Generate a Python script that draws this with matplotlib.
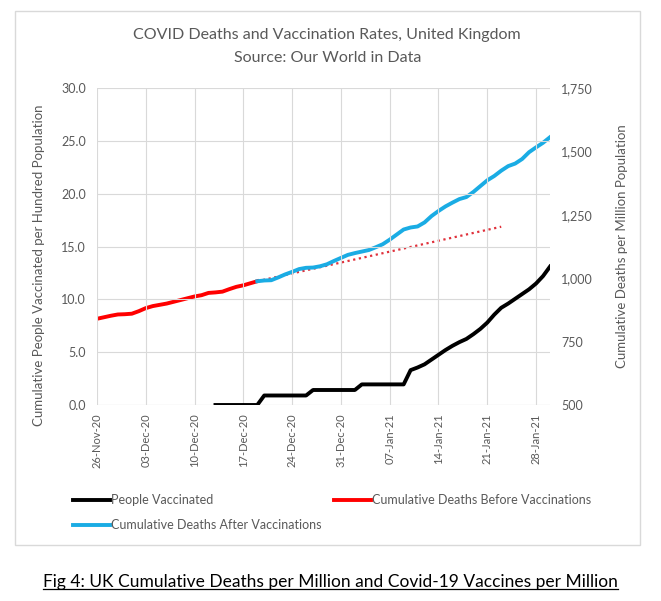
from matplotlib import pyplot as plt
from matplotlib.patches import Rectangle
from matplotlib.lines import Line2D
import matplotlib.dates as mdates
import numpy as np

plt.rcParams['font.family'] = ['Lato', 'DejaVu Sans']

#----------------------------------------------------------------------
# Data (days counted from 26-Nov-20)
start = np.datetime64('2020-11-26')

# cumulative deaths per million, before vaccinations (26-Nov .. 19-Dec)
before_days = np.arange(0, 24)
before_deaths = [840, 846, 852, 857, 858, 860, 870, 882, 890, 895, 900, 907,
                 914, 921, 928, 933, 942, 944, 947, 957, 966, 972, 980, 988]

# cumulative deaths per million, after vaccinations (19-Dec .. 30-Jan)
after_days = np.arange(23, 66)
after_deaths = [988, 991, 992, 1003, 1015, 1025, 1036, 1041, 1042, 1047, 1055,
                1068, 1080, 1092, 1099, 1105, 1111, 1122, 1134, 1152, 1172,
                1192, 1200, 1204, 1220, 1245, 1265, 1283, 1298, 1312, 1320,
                1340, 1363, 1386, 1403, 1424, 1442, 1452, 1470, 1497, 1516,
                1534, 1556]

# dotted projection of the pre-vaccination trend
trend_days = [23, 58]
trend_deaths = [988, 1203]

# people vaccinated per hundred (13-Dec .. 30-Jan)
vacc_days = np.arange(17, 66)
vacc_values = [0.0] * 7 + [0.9] * 7 + [1.42] * 7 + [1.95] * 7 + [
    3.3, 3.55, 3.85, 4.3, 4.75, 5.2, 5.6, 5.95, 6.25, 6.7, 7.2, 7.8, 8.55,
    9.2, 9.6, 10.05, 10.5, 10.95, 11.5, 12.2, 13.1]

tick_days = np.arange(0, 64, 7)

gray = '#595959'
grid = '#D9D9D9'

fig = plt.figure(figsize=(6.61, 6.01), dpi=100)
fig.patches.append(Rectangle((15 / 661, 1 - 545 / 601), 625 / 661, 534 / 601,
                             transform=fig.transFigure, fill=False,
                             ec='#D9D9D9', lw=1))

ax = fig.add_axes([97 / 661, 1 - 405 / 601, 453 / 661, 317 / 601])
ax2 = ax.twinx()

to_dates = lambda d: start + np.asarray(d).astype('timedelta64[D]')

l_vacc, = ax.plot(to_dates(vacc_days), vacc_values, color='black', lw=2.8,
                  solid_joinstyle='round')
l_before, = ax2.plot(to_dates(before_days), before_deaths, color='#FF0000',
                     lw=2.8)
ax2.plot(to_dates(trend_days), trend_deaths, color='#E0303A', lw=1.6,
         ls=(0, (1, 1.6)))
l_after, = ax2.plot(to_dates(after_days), after_deaths, color='#1AACE4',
                    lw=2.8)
ax.set_zorder(ax2.get_zorder() + 1)
ax.patch.set_visible(False)

ax.set_xlim(to_dates(0), to_dates(65.75))
ax.set_ylim(0, 30)
ax2.set_ylim(500, 1750)
ax.set_yticks(np.arange(0, 30.1, 5))
ax.set_yticklabels([f'{v:.1f}' for v in np.arange(0, 30.1, 5)])
ax2.set_yticks(np.arange(500, 1751, 250))
ax2.set_yticklabels([f'{v:,}' for v in np.arange(500, 1751, 250)])
ax.set_xticks(to_dates(tick_days))
ax.xaxis.set_major_formatter(mdates.DateFormatter('%d-%b-%y'))

for a in (ax, ax2):
    for s in a.spines.values():
        s.set_visible(False)
    a.tick_params(length=0, colors=gray, labelsize=9)
ax.tick_params(axis='x', labelrotation=90, labelsize=8, pad=6)
ax.tick_params(axis='y', pad=8)
ax2.tick_params(axis='y', pad=8)
ax2.grid(False)
ax.grid(True, color=grid, lw=0.8)
ax.set_axisbelow(True)
ax.axhline(0, color=grid, lw=0.8, zorder=0)

ax.set_ylabel('Cumulative People Vaccinated per Hundred Population',
              color=gray, fontsize=9.5)
ax.yaxis.set_label_coords(-0.115, 0.44)
ax2.set_ylabel('Cumulative Deaths per Million Population', color=gray,
               fontsize=9.5, rotation=90)
ax2.yaxis.set_label_coords(1.145, 0.5)

fig.text(0.495, 1 - 35 / 601, 'COVID Deaths and Vaccination Rates, United Kingdom',
         ha='center', va='center', color=gray, fontsize=11.5)
fig.text(0.495, 1 - 58 / 601, 'Source: Our World in Data', ha='center',
         va='center', color=gray, fontsize=11.5)

fig.legend([l_vacc, l_after, l_before],
           ['People Vaccinated', 'Cumulative Deaths After Vaccinations',
            'Cumulative Deaths Before Vaccinations'],
           ncol=2, loc='upper left', bbox_to_anchor=(62 / 661, 1 - 483 / 601),
           frameon=False, fontsize=9, labelcolor=gray, handlelength=2.9,
           handletextpad=0.15, columnspacing=1.0, labelspacing=1.05)

cap = fig.text(0.5, 1 - 582 / 601,
               'Fig 4: UK Cumulative Deaths per Million and Covid-19 Vaccines per Million',
               ha='center', va='center', color='black', fontsize=12.5)
fig.canvas.draw()
bb = cap.get_window_extent().transformed(fig.transFigure.inverted())
fig.lines.append(Line2D([bb.x0, bb.x1], [bb.y0 + 0.002, bb.y0 + 0.002],
                        transform=fig.transFigure, color='black', lw=0.9))

fig.savefig('out.png', dpi=100)
